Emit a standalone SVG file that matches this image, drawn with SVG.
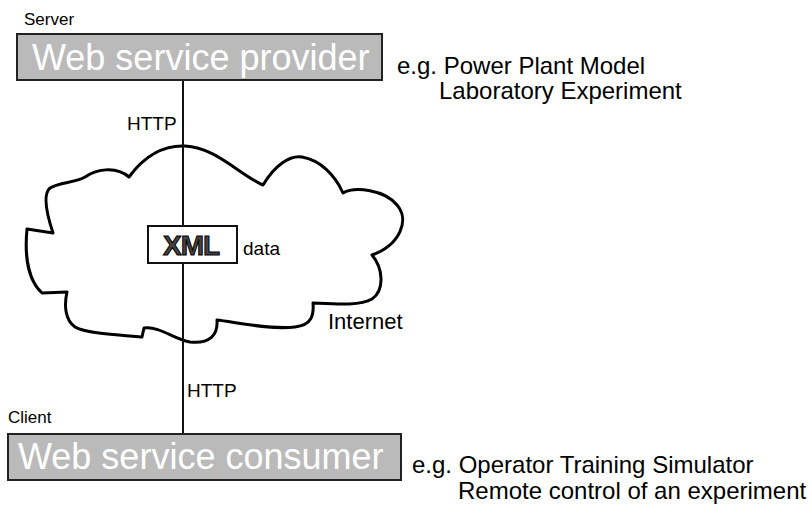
<svg xmlns="http://www.w3.org/2000/svg" width="812" height="507" viewBox="0 0 812 507">
  <style>
    text { font-family: "Liberation Sans", Arial, sans-serif; fill: #000; }
    .box { fill: #bababa; stroke: #222; stroke-width: 2; }
    .boxlabel { font-size: 36px; fill: #fff; }
    .note { font-size: 24px; }
    .small { font-size: 19px; }
    .wire { stroke: #111; stroke-width: 2; fill: none; }
  </style>
  <rect width="812" height="507" fill="#fff"/>

  <!-- Internet cloud -->
  <g id="internet">
    <path d="M129,177 C145,155 165,145 185,146 C215,147 240,175 263,185 C275,165 290,155 302,157 C320,160 335,175 343,193 C355,186 385,190 397,205 C410,220 400,245 372,255 C383,268 385,290 372,299 C360,306 335,304 313,303 C314,315 312,325 295,327 C270,330 235,322 217,320 C218,335 210,344 190,342 C175,340 160,326 144,328 L142,337 C115,335 85,333 75,327 C65,320 64,305 67,292 L42,293 C30,282 24,260 27,229 L53,233 C47,215 42,195 50,188 C60,182 75,183 85,177 C95,170 115,165 129,177 Z" fill="none" stroke="#000" stroke-width="3" stroke-linejoin="round"/>
    <text x="328" y="329" style="font-size:22px">Internet</text>
  </g>

  <!-- HTTP link between provider and consumer -->
  <g id="connectors">
    <line class="wire" x1="183" y1="80" x2="183" y2="434"/>
    <text class="small" x="127" y="130">HTTP</text>
    <text class="small" x="187" y="397">HTTP</text>
  </g>

  <g id="provider">
    <text x="24" y="25" style="font-size:17px">Server</text>
    <rect class="box" x="17" y="34" width="365" height="46"/>
    <text class="boxlabel" x="32" y="70">Web service provider</text>
    <text class="note" x="397" y="74">e.g. Power Plant Model</text>
    <text class="note" x="439" y="99">Laboratory Experiment</text>
  </g>

  <g id="xml-data">
    <rect x="148" y="226" width="89" height="37" fill="#fff" stroke="#111" stroke-width="2"/>
    <text x="163" y="255" style="font-size:28px;font-weight:bold;letter-spacing:-1px;fill:#444;stroke:#000;stroke-width:1">XML</text>
    <text x="243" y="255" style="font-size:19px">data</text>
  </g>

  <g id="consumer">
    <text x="8" y="423" style="font-size:17px">Client</text>
    <rect class="box" x="8" y="434" width="393" height="46"/>
    <text class="boxlabel" x="18" y="469">Web service consumer</text>
    <text class="note" x="412" y="473">e.g. Operator Training Simulator</text>
    <text class="note" x="458" y="499">Remote control of an experiment</text>
  </g>
</svg>
